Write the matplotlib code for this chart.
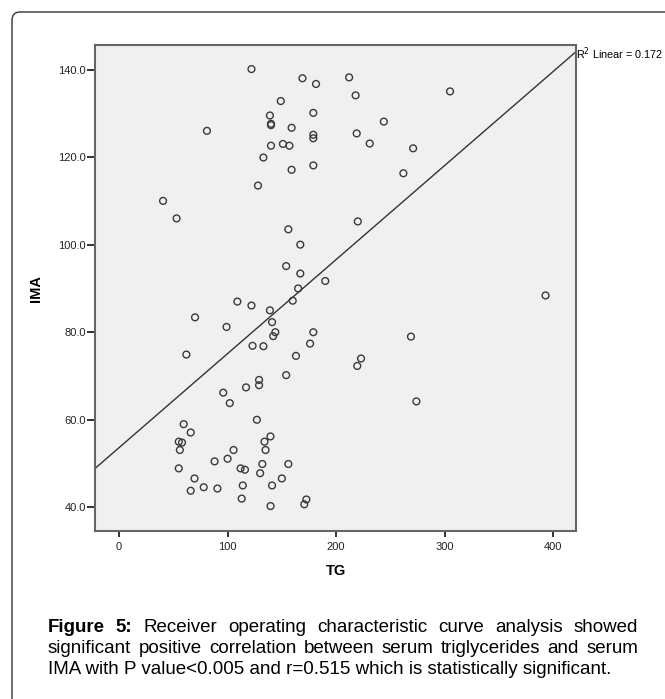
import numpy as np
import matplotlib
matplotlib.use("Agg")
import matplotlib.pyplot as plt
from matplotlib.patches import FancyBboxPatch

plt.rcParams["font.family"] = ["Liberation Sans", "DejaVu Sans"]

# serum triglycerides (TG) vs ischemia-modified albumin (IMA)
TG = [122, 169, 181.5, 212, 218, 305, 149, 139, 140, 140, 179, 81, 159, 179, 179,
      244, 219, 140, 151, 157, 231, 271, 133, 179, 159, 262, 128, 40.5, 53, 156,
      220, 167, 154, 167, 190, 165, 160, 109, 122, 139, 70, 141, 99, 144, 142,
      179, 176, 393, 62, 123, 133, 163, 269, 223, 219.5, 154, 129, 129, 117, 96,
      102, 274, 127, 59.5, 66, 139.5, 55, 58, 134, 56, 105.5, 135, 100, 88, 132,
      156, 55, 112, 116, 130, 69.5, 150, 78, 90.6, 66, 114, 141, 113, 172.6,
      170.7, 139.6]
IMA = [140.1, 138.0, 136.7, 138.2, 134.1, 135.0, 132.8, 129.5, 127.6, 127.3, 130.1,
       126.0, 126.7, 125.1, 124.3, 128.1, 125.4, 122.6, 123.0, 122.6, 123.1, 122.0,
       119.9, 118.1, 117.1, 116.3, 113.5, 110.0, 106.0, 103.5, 105.3, 100.0, 95.1,
       93.4, 91.7, 90.0, 87.2, 87.0, 86.1, 85.0, 83.4, 82.3, 81.2, 80.0, 79.1, 80.0,
       77.4, 88.4, 74.9, 76.9, 76.8, 74.6, 79.0, 74.0, 72.3, 70.2, 69.1, 67.9, 67.4,
       66.2, 63.8, 64.2, 60.0, 59.0, 57.1, 56.2, 55.0, 54.8, 55.0, 53.1, 53.1, 53.1,
       51.1, 50.5, 49.9, 49.9, 48.9, 48.9, 48.6, 47.8, 46.6, 46.6, 44.6, 44.3, 43.8,
       45.0, 45.0, 42.0, 41.8, 40.7, 40.3]
R2_LABEL = "0.172"
X_TICKS = [0, 100, 200, 300, 400]
Y_TICKS = [40, 60, 80, 100, 120, 140]
CAPTION = [
    [("Figure", True), ("5:", True), ("Receiver", False), ("operating", False),
     ("characteristic", False), ("curve", False), ("analysis", False), ("showed", False)],
    [(w, False) for w in "significant positive correlation between serum triglycerides and serum".split()],
]
CAPTION_LAST = "IMA with P value<0.005 and r=0.515 which is statistically significant."

W, H = 665, 699
fig = plt.figure(figsize=(W / 100, H / 100), dpi=100)

# rounded outer frame, running off the right and bottom edges
fig.patches.append(FancyBboxPatch((12 / W, -0.05), 1.1, 1 - 12 / H + 0.05,
                                  boxstyle="round,pad=0,rounding_size=0.012",
                                  transform=fig.transFigure, facecolor="none",
                                  edgecolor="#333333", lw=1.0))

ax = fig.add_axes([95 / W, 1 - 531 / H, (576 - 95) / W, (531 - 45) / H])
ax.set_facecolor("#F0F0F0")
ax.set_xlim(-22.2, 421.1)
ax.set_ylim(34.6, 145.6)

ax.scatter(TG, IMA, s=24, facecolors="none", edgecolors="#3a3a3a", linewidths=1.0, zorder=3)

b, a = np.polyfit(TG, IMA, 1)
xs = np.array(ax.get_xlim())
ax.plot(xs, a + b * xs, color="#333333", lw=1.0, zorder=2)
ax.text(xs[1], a + b * xs[1] - 0.5, "R$^2$ Linear = " + R2_LABEL, fontsize=7.8,
        ha="left", va="center", clip_on=False)

ax.set_xticks(X_TICKS)
ax.set_yticks(Y_TICKS)
ax.set_yticklabels([f"{v:.1f}" for v in Y_TICKS])
ax.tick_params(axis="both", direction="out", colors="#222222", labelsize=8,
               width=1.3, top=False, right=False)
ax.tick_params(axis="y", length=5.8, pad=0.7)
ax.tick_params(axis="x", length=4.6, pad=3.2)
for sp in ax.spines.values():
    sp.set_color("#666666")
    sp.set_linewidth(1.5)

ax.set_xlabel("TG", fontsize=10.5, fontweight="bold", labelpad=9)
ax.set_ylabel("IMA", fontsize=10.5, fontweight="bold", labelpad=11)

# justified caption below the chart
fig.canvas.draw()
renderer = fig.canvas.get_renderer()
x0, x1 = 48, 638
probe = fig.text(0, 0, CAPTION_LAST, fontsize=11)
fs = 11 * 561 / probe.get_window_extent(renderer).width
probe.remove()

baselines = [632, 653, 674]
for words, yb in zip(CAPTION, baselines):
    items = [fig.text(0, 1 - yb / H, w, fontsize=fs, va="baseline",
                      fontweight="bold" if bold else "normal") for w, bold in words]
    widths = [t.get_window_extent(renderer).width for t in items]
    gap = (x1 - x0 - sum(widths)) / (len(items) - 1)
    x = x0
    for t, wd in zip(items, widths):
        t.set_x(x / W)
        x += wd + gap
fig.text(x0 / W, 1 - baselines[2] / H, CAPTION_LAST, fontsize=fs, va="baseline")

fig.savefig("out.png", dpi=100)
